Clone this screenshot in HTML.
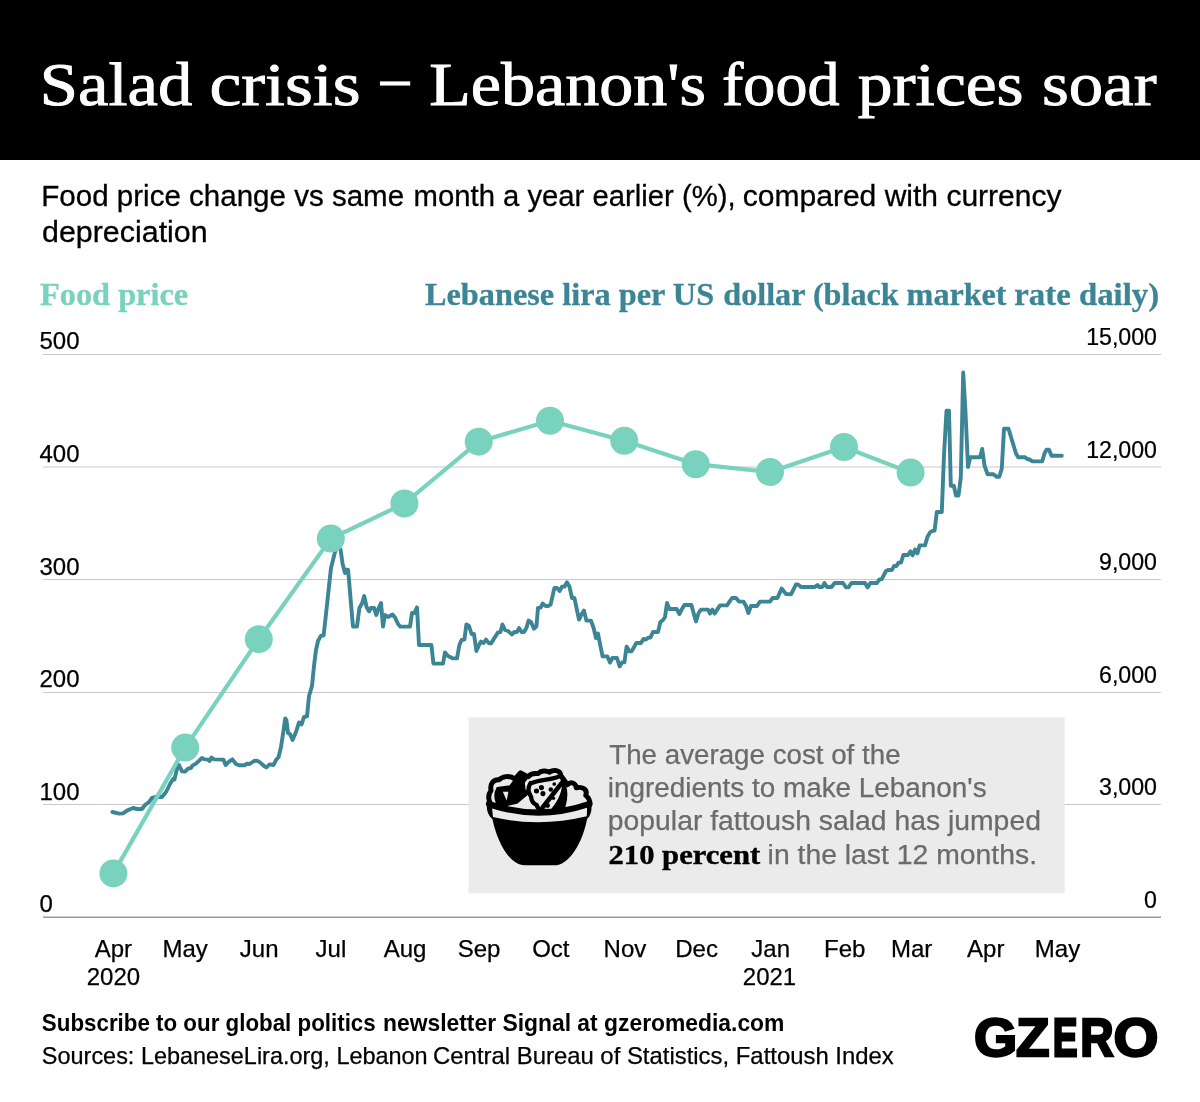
<!DOCTYPE html>
<html><head><meta charset="utf-8"><title>Salad crisis</title>
<style>html,body{margin:0;padding:0;background:#fff}body{width:1200px;height:1102px;position:relative;overflow:hidden}</style></head>
<body>
<svg width="1200" height="1102" viewBox="0 0 1200 1102" style="position:absolute;left:0;top:0">
<rect x="0" y="0" width="1200" height="160" fill="#000"/>
<line x1="43" x2="1161" y1="354.5" y2="354.5" stroke="#c9c9c9" stroke-width="1"/>
<line x1="43" x2="1161" y1="467.0" y2="467.0" stroke="#c9c9c9" stroke-width="1"/>
<line x1="43" x2="1161" y1="579.5" y2="579.5" stroke="#c9c9c9" stroke-width="1"/>
<line x1="43" x2="1161" y1="692.5" y2="692.5" stroke="#c9c9c9" stroke-width="1"/>
<line x1="43" x2="1161" y1="804.5" y2="804.5" stroke="#c9c9c9" stroke-width="1"/>
<line x1="43" x2="1161" y1="917.25" y2="917.25" stroke="#9a9a9a" stroke-width="1.5"/>
<rect x="468.5" y="717.5" width="596.2" height="175.8" fill="#ebebeb"/>
<path d="M112.4,812.0 L119.0,813.6 L123.0,813.4 L127.0,810.6 L133.0,808.0 L137.0,809.0 L142.0,809.0 L145.0,805.0 L149.0,802.0 L152.0,798.0 L156.0,797.0 L162.0,797.0 L166.0,792.0 L170.0,784.0 L173.0,779.0 L174.4,779.6 L177.0,769.0 L179.0,765.0 L182.0,771.4 L185.0,771.6 L188.0,768.6 L191.0,768.0 L192.4,765.6 L196.0,763.6 L202.0,758.0 L205.0,759.4 L208.0,759.6 L209.6,761.0 L211.4,757.6 L214.0,759.4 L223.4,759.6 L225.6,765.0 L229.0,761.6 L232.4,759.4 L236.0,764.0 L239.0,765.2 L245.0,765.2 L247.0,763.6 L249.6,764.0 L254.0,761.0 L257.0,760.6 L260.0,762.4 L264.0,766.0 L266.4,767.4 L269.6,764.4 L273.6,765.0 L276.0,760.0 L278.6,757.0 L281.0,747.0 L283.6,730.0 L285.2,718.4 L286.4,720.0 L288.0,733.0 L290.0,734.0 L292.6,740.0 L296.0,732.0 L299.0,722.4 L301.6,724.4 L304.0,717.0 L307.0,716.4 L309.0,696.0 L312.0,686.0 L314.0,666.0 L316.0,650.0 L318.0,641.0 L321.0,635.6 L323.6,635.6 L326.0,614.0 L328.6,590.0 L331.0,568.0 L335.0,552.0 L338.0,545.0 L340.6,550.0 L342.6,564.0 L345.0,573.0 L345.6,569.6 L348.0,569.6 L349.0,580.0 L351.0,604.0 L353.0,626.6 L357.0,626.6 L359.4,608.0 L362.0,603.6 L364.2,596.0 L366.6,607.0 L369.0,611.4 L371.0,608.0 L374.0,608.0 L376.4,615.0 L378.6,608.0 L381.0,603.0 L383.0,626.6 L385.0,615.0 L388.0,617.0 L392.6,614.6 L395.0,617.4 L398.0,624.0 L400.4,626.6 L410.0,626.6 L412.0,613.0 L414.4,613.0 L417.0,607.4 L419.0,645.0 L431.4,645.0 L433.4,663.6 L443.0,663.6 L445.0,652.4 L448.0,656.0 L453.0,658.4 L457.0,658.4 L459.4,645.0 L461.6,640.0 L464.4,639.6 L466.4,624.4 L469.0,626.0 L471.6,634.0 L474.0,634.0 L476.4,651.0 L479.0,645.0 L481.0,641.6 L483.6,643.0 L486.0,639.6 L489.0,643.4 L491.0,643.4 L498.0,632.4 L500.4,632.0 L502.4,624.4 L505.0,630.0 L508.0,631.0 L512.0,634.4 L514.4,632.0 L517.0,632.0 L519.0,628.0 L521.6,632.0 L524.0,632.0 L526.4,628.0 L528.6,620.6 L531.0,622.0 L534.0,628.6 L536.4,626.6 L538.0,608.0 L540.6,607.6 L542.6,603.6 L545.6,606.0 L548.0,606.0 L550.6,604.6 L554.4,588.0 L557.0,588.0 L559.6,591.0 L562.0,586.6 L564.4,586.6 L567.0,582.4 L569.4,586.4 L572.0,598.0 L574.4,598.0 L579.0,619.6 L581.4,614.6 L584.0,610.6 L586.4,620.6 L591.0,620.6 L593.6,628.0 L596.0,638.0 L598.0,633.6 L600.0,644.0 L602.6,656.4 L607.4,656.4 L610.0,662.6 L612.4,658.0 L617.0,658.0 L619.6,666.4 L622.0,662.4 L624.4,662.4 L626.6,646.6 L629.4,651.4 L631.6,651.4 L636.4,643.0 L641.0,643.0 L643.4,639.0 L645.6,639.6 L648.4,637.6 L650.4,637.6 L653.0,632.0 L658.0,632.0 L660.4,622.0 L663.0,620.0 L665.0,617.0 L667.0,603.0 L669.4,609.0 L676.6,609.0 L679.4,614.0 L682.0,609.0 L684.4,605.0 L691.4,605.0 L693.6,613.0 L696.0,621.4 L698.6,613.0 L701.0,609.6 L708.0,609.6 L710.0,613.6 L712.4,609.6 L714.6,613.6 L720.0,605.4 L727.0,605.4 L732.0,598.0 L736.0,598.0 L739.0,601.6 L743.6,601.6 L746.0,606.0 L748.4,613.0 L751.0,606.0 L757.0,606.0 L760.0,601.6 L770.0,601.6 L772.6,598.0 L777.4,598.0 L781.6,588.6 L786.0,594.0 L791.0,594.4 L796.0,584.4 L798.0,584.4 L801.0,587.0 L815.0,587.0 L817.4,585.0 L819.4,587.0 L822.4,587.0 L824.4,583.0 L827.0,587.0 L831.6,587.0 L834.6,583.0 L843.0,583.0 L846.0,587.4 L848.4,587.4 L851.4,583.0 L865.0,583.0 L867.6,587.4 L870.4,583.0 L877.0,583.0 L879.4,579.4 L881.6,579.4 L886.0,571.0 L888.0,570.0 L892.0,570.0 L894.0,566.0 L896.4,566.0 L898.6,562.6 L901.0,562.6 L903.4,555.0 L908.0,555.0 L910.4,551.4 L912.6,555.4 L915.0,549.4 L917.4,553.4 L919.6,545.4 L925.0,545.4 L927.4,537.0 L930.0,532.4 L932.4,531.0 L934.6,530.6 L936.8,512.0 L941.8,512.0 L944.0,455.0 L946.5,410.8 L949.0,410.8 L950.8,485.8 L953.8,485.8 L956.0,495.5 L958.5,495.5 L960.8,477.5 L963.2,372.5 L965.4,410.0 L968.0,467.0 L970.2,457.2 L980.0,457.2 L982.2,449.0 L984.5,465.5 L987.5,474.2 L993.5,474.2 L996.5,476.8 L999.2,476.8 L1001.8,468.5 L1004.0,428.8 L1008.5,428.8 L1016.0,453.5 L1018.2,457.2 L1025.0,457.2 L1027.2,459.0 L1029.5,459.5 L1032.5,461.4 L1042.2,461.4 L1044.5,453.5 L1046.5,449.8 L1049.0,449.8 L1051.5,455.8 L1061.8,455.8" fill="none" stroke="#3b8595" stroke-width="3.9" stroke-linejoin="round" stroke-linecap="round"/>
<path d="M113.4,873.4 L185.2,747.6 L258.8,639.2 L330.8,538.6 L404.4,503.5 L478.7,441.7 L550.0,420.8 L624.2,440.8 L695.8,464.2 L770.0,472.0 L844.0,447.0 L910.6,472.6" fill="none" stroke="#79d2bd" stroke-width="4.2" stroke-linejoin="round"/>
<circle cx="113.4" cy="873.4" r="14" fill="#79d2bd"/>
<circle cx="185.2" cy="747.6" r="14" fill="#79d2bd"/>
<circle cx="258.8" cy="639.2" r="14" fill="#79d2bd"/>
<circle cx="330.8" cy="538.6" r="14" fill="#79d2bd"/>
<circle cx="404.4" cy="503.5" r="14" fill="#79d2bd"/>
<circle cx="478.7" cy="441.7" r="14" fill="#79d2bd"/>
<circle cx="550" cy="420.75" r="14" fill="#79d2bd"/>
<circle cx="624.25" cy="440.75" r="14" fill="#79d2bd"/>
<circle cx="695.75" cy="464.25" r="14" fill="#79d2bd"/>
<circle cx="770" cy="472" r="14" fill="#79d2bd"/>
<circle cx="844" cy="447" r="14" fill="#79d2bd"/>
<circle cx="910.6" cy="472.6" r="14" fill="#79d2bd"/>
<g transform="translate(470,740) scale(0.133333)">
<!-- bowl silhouette -->
<path d="M128,462 C120,520 135,568 168,592 C205,770 300,940 410,940 L630,940 C745,940 845,770 878,592 C908,568 918,520 908,462 C800,520 650,548 520,548 C390,548 240,520 128,462 Z" fill="#000"/>
<!-- salad heap: light fill with black outline -->
<path d="M156,480 C134,443 138,405 158,379 C147,330 176,293 218,298 C245,270 300,265 336,293 L380,246 L436,276 C450,256 480,248 512,252 C530,229 570,226 598,242 C625,218 678,226 680,263 L730,335 C755,310 792,319 797,358 C843,347 884,372 868,415 C890,433 902,459 900,485 C800,530 650,552 520,552 C390,552 240,525 150,480 Z" fill="#ebebeb" stroke="#000" stroke-width="37" stroke-linejoin="round"/>
<!-- left leaf black interior + chip -->
<path d="M205,360 L300,347 L336,298 L380,246 L436,276 L404,319 L410,375 L440,398 L352,471 L262,492 L200,471 C185,433 185,396 205,360 Z" fill="#000" stroke="#000" stroke-width="14" stroke-linejoin="round"/>
<!-- light triangle in left leaf -->
<path d="M246,388 L288,388 L275,454 Z" fill="#ebebeb"/>
<!-- centre leaf inner line (top of pita) -->
<path d="M455,326 C520,292 590,306 668,274" fill="none" stroke="#000" stroke-width="32" stroke-linecap="round"/>
<!-- pita wavy left outline -->
<path d="M455,322 C430,360 440,400 458,425 C460,460 480,480 500,488 C505,510 520,525 540,530" fill="none" stroke="#000" stroke-width="32" stroke-linejoin="round" stroke-linecap="round"/>
<!-- wedge right of pita -->
<path d="M668,262 C740,326 745,420 708,525 L585,540 C650,480 690,400 690,330 Z" fill="#000"/>
<!-- diagonal stripe -->
<path d="M543,508 L690,320" fill="none" stroke="#000" stroke-width="34" stroke-linecap="round"/>
<!-- light sliver lower right of pita -->
<path d="M568,512 L668,385 C660,440 630,495 598,528 Z" fill="#ebebeb"/>
<path d="M540,532 L610,530" fill="none" stroke="#000" stroke-width="30" stroke-linecap="round"/>
<!-- dots -->
<g fill="#000"><circle cx="536" cy="357" r="19"/><circle cx="499" cy="383" r="19"/><circle cx="547" cy="402" r="19"/><circle cx="606" cy="372" r="17"/><circle cx="632" cy="330" r="14"/><circle cx="626" cy="437" r="13"/><circle cx="582" cy="492" r="18"/></g>
<!-- rim top stroke -->
<path d="M140,478 Q520,608 896,478" fill="none" stroke="#000" stroke-width="42" stroke-linecap="round"/>
<!-- light band on bowl -->
<path d="M166,513 Q520,626 878,508 L876,572 Q520,658 172,578 Z" fill="#ebebeb"/>
</g>

<text x="39.80" y="105" font-family="Liberation Serif, serif" font-size="62" fill="#fff" stroke="#fff" stroke-width="0.9" textLength="152.46" lengthAdjust="spacingAndGlyphs">Salad</text>
<text x="209.46" y="105" font-family="Liberation Serif, serif" font-size="62" fill="#fff" stroke="#fff" stroke-width="0.9" textLength="151.08" lengthAdjust="spacingAndGlyphs">crisis</text>
<text x="380.70" y="98" font-family="Liberation Serif, serif" font-size="62" fill="#fff" stroke="#fff" stroke-width="0.9" textLength="28.60" lengthAdjust="spacingAndGlyphs">–</text>
<text x="429.16" y="105" font-family="Liberation Serif, serif" font-size="62" fill="#fff" stroke="#fff" stroke-width="0.9" textLength="276.94" lengthAdjust="spacingAndGlyphs">Lebanon's</text>
<text x="722.04" y="105" font-family="Liberation Serif, serif" font-size="62" fill="#fff" stroke="#fff" stroke-width="0.9" textLength="117.40" lengthAdjust="spacingAndGlyphs">food</text>
<text x="857.74" y="105" font-family="Liberation Serif, serif" font-size="62" fill="#fff" stroke="#fff" stroke-width="0.9" textLength="165.92" lengthAdjust="spacingAndGlyphs">prices</text>
<text x="1041.90" y="105" font-family="Liberation Serif, serif" font-size="62" fill="#fff" stroke="#fff" stroke-width="0.9" textLength="114.66" lengthAdjust="spacingAndGlyphs">soar</text>
<text x="41.34" y="206" font-family="Liberation Sans, sans-serif" font-size="29.5" fill="#000" stroke="#000" stroke-width="0.3" textLength="362.80" lengthAdjust="spacingAndGlyphs">Food price change vs same</text>
<text x="413.60" y="206" font-family="Liberation Sans, sans-serif" font-size="29.5" fill="#000" stroke="#000" stroke-width="0.3" textLength="321.94" lengthAdjust="spacingAndGlyphs">month a year earlier (%),</text>
<text x="742.74" y="206" font-family="Liberation Sans, sans-serif" font-size="29.5" fill="#000" stroke="#000" stroke-width="0.3" textLength="318.82" lengthAdjust="spacingAndGlyphs">compared with currency</text>
<text x="42.04" y="241.7" font-family="Liberation Sans, sans-serif" font-size="29.5" fill="#000" stroke="#000" stroke-width="0.3" textLength="165.62" lengthAdjust="spacingAndGlyphs">depreciation</text>
<text x="40.00" y="305.3" font-family="Liberation Serif, serif" font-size="31" fill="#79d2bd" font-weight="bold" stroke="#79d2bd" stroke-width="0.3" textLength="148.14" lengthAdjust="spacingAndGlyphs">Food price</text>
<text x="425.00" y="305.3" font-family="Liberation Serif, serif" font-size="31" fill="#3b8595" font-weight="bold" stroke="#3b8595" stroke-width="0.3" textLength="289.14" lengthAdjust="spacingAndGlyphs">Lebanese lira per US</text>
<text x="723.30" y="305.3" font-family="Liberation Serif, serif" font-size="31" fill="#3b8595" font-weight="bold" stroke="#3b8595" stroke-width="0.3" textLength="283.26" lengthAdjust="spacingAndGlyphs">dollar (black market</text>
<text x="1014.30" y="305.3" font-family="Liberation Serif, serif" font-size="31" fill="#3b8595" font-weight="bold" stroke="#3b8595" stroke-width="0.3" textLength="144.84" lengthAdjust="spacingAndGlyphs">rate daily)</text>
<text x="609.24" y="763.5" font-family="Liberation Sans, sans-serif" font-size="27" fill="#6b6b6b" stroke="#6b6b6b" stroke-width="0.25" textLength="291.34" lengthAdjust="spacingAndGlyphs">The average cost of the</text>
<text x="607.84" y="797" font-family="Liberation Sans, sans-serif" font-size="27" fill="#6b6b6b" stroke="#6b6b6b" stroke-width="0.25" textLength="378.80" lengthAdjust="spacingAndGlyphs">ingredients to make Lebanon's</text>
<text x="607.84" y="830.3" font-family="Liberation Sans, sans-serif" font-size="27" fill="#6b6b6b" stroke="#6b6b6b" stroke-width="0.25" textLength="433.06" lengthAdjust="spacingAndGlyphs">popular fattoush salad has jumped</text>
<text x="608.54" y="863.6" font-family="Liberation Serif, serif" font-size="27" fill="#000" font-weight="bold" stroke="#000" stroke-width="0.4" textLength="151.64" lengthAdjust="spacingAndGlyphs">210 percent</text>
<text x="767.60" y="863.6" font-family="Liberation Sans, sans-serif" font-size="27" fill="#6b6b6b" stroke="#6b6b6b" stroke-width="0.25" textLength="269.44" lengthAdjust="spacingAndGlyphs">in the last 12 months.</text>
<text x="41.86" y="1031" font-family="Liberation Sans, sans-serif" font-size="24" fill="#000" font-weight="bold" textLength="333.84" lengthAdjust="spacingAndGlyphs">Subscribe to our global politics</text>
<text x="383.04" y="1031" font-family="Liberation Sans, sans-serif" font-size="24" fill="#000" font-weight="bold" textLength="401.36" lengthAdjust="spacingAndGlyphs">newsletter Signal at gzeromedia.com</text>
<text x="41.86" y="1063.5" font-family="Liberation Sans, sans-serif" font-size="24" fill="#000" stroke="#000" stroke-width="0.25" textLength="385.79" lengthAdjust="spacingAndGlyphs">Sources: LebaneseLira.org, Lebanon</text>
<text x="433.10" y="1063.5" font-family="Liberation Sans, sans-serif" font-size="24" fill="#000" stroke="#000" stroke-width="0.25" textLength="460.66" lengthAdjust="spacingAndGlyphs">Central Bureau of Statistics, Fattoush Index</text>
<text x="973.92" y="1056.4" font-family="Liberation Sans, sans-serif" font-size="54" fill="#000" font-weight="bold" stroke="#000" stroke-width="2.4" textLength="43.24" lengthAdjust="spacingAndGlyphs">G</text>
<text x="1016.06" y="1056.4" font-family="Liberation Sans, sans-serif" font-size="54" fill="#000" font-weight="bold" stroke="#000" stroke-width="2.4" textLength="33.50" lengthAdjust="spacingAndGlyphs">Z</text>
<text x="1053.10" y="1056.4" font-family="Liberation Sans, sans-serif" font-size="54" fill="#000" font-weight="bold" stroke="#000" stroke-width="3.2" textLength="24.40" lengthAdjust="spacingAndGlyphs">E</text>
<text x="1080.34" y="1056.4" font-family="Liberation Sans, sans-serif" font-size="54" fill="#000" font-weight="bold" stroke="#000" stroke-width="2.6" textLength="33.40" lengthAdjust="spacingAndGlyphs">R</text>
<text x="1113.42" y="1056.4" font-family="Liberation Sans, sans-serif" font-size="54" fill="#000" font-weight="bold" stroke="#000" stroke-width="2.4" textLength="44.98" lengthAdjust="spacingAndGlyphs">O</text>
<text x="39.5" y="349.3" font-family="Liberation Sans, sans-serif" font-size="24" fill="#000" stroke="#000" stroke-width="0.25">500</text>
<text x="39.5" y="461.9" font-family="Liberation Sans, sans-serif" font-size="24" fill="#000" stroke="#000" stroke-width="0.25">400</text>
<text x="39.5" y="574.5" font-family="Liberation Sans, sans-serif" font-size="24" fill="#000" stroke="#000" stroke-width="0.25">300</text>
<text x="39.5" y="687.1" font-family="Liberation Sans, sans-serif" font-size="24" fill="#000" stroke="#000" stroke-width="0.25">200</text>
<text x="39.5" y="799.7" font-family="Liberation Sans, sans-serif" font-size="24" fill="#000" stroke="#000" stroke-width="0.25">100</text>
<text x="39.5" y="912.3" font-family="Liberation Sans, sans-serif" font-size="24" fill="#000" stroke="#000" stroke-width="0.25">0</text>
<text transform="translate(1157,345.0) scale(0.965,1)" font-family="Liberation Sans, sans-serif" font-size="24" fill="#000" text-anchor="end" stroke="#000" stroke-width="0.25">15,000</text>
<text transform="translate(1157,457.6) scale(0.965,1)" font-family="Liberation Sans, sans-serif" font-size="24" fill="#000" text-anchor="end" stroke="#000" stroke-width="0.25">12,000</text>
<text transform="translate(1157,570.2) scale(0.965,1)" font-family="Liberation Sans, sans-serif" font-size="24" fill="#000" text-anchor="end" stroke="#000" stroke-width="0.25">9,000</text>
<text transform="translate(1157,682.8) scale(0.965,1)" font-family="Liberation Sans, sans-serif" font-size="24" fill="#000" text-anchor="end" stroke="#000" stroke-width="0.25">6,000</text>
<text transform="translate(1157,795.4) scale(0.965,1)" font-family="Liberation Sans, sans-serif" font-size="24" fill="#000" text-anchor="end" stroke="#000" stroke-width="0.25">3,000</text>
<text transform="translate(1157,908.0) scale(0.965,1)" font-family="Liberation Sans, sans-serif" font-size="24" fill="#000" text-anchor="end" stroke="#000" stroke-width="0.25">0</text>
<text x="113.4" y="956.5" font-family="Liberation Sans, sans-serif" font-size="24" fill="#000" text-anchor="middle" stroke="#000" stroke-width="0.25">Apr</text>
<text x="185.1" y="956.5" font-family="Liberation Sans, sans-serif" font-size="24" fill="#000" text-anchor="middle" stroke="#000" stroke-width="0.25">May</text>
<text x="259.2" y="956.5" font-family="Liberation Sans, sans-serif" font-size="24" fill="#000" text-anchor="middle" stroke="#000" stroke-width="0.25">Jun</text>
<text x="330.9" y="956.5" font-family="Liberation Sans, sans-serif" font-size="24" fill="#000" text-anchor="middle" stroke="#000" stroke-width="0.25">Jul</text>
<text x="405" y="956.5" font-family="Liberation Sans, sans-serif" font-size="24" fill="#000" text-anchor="middle" stroke="#000" stroke-width="0.25">Aug</text>
<text x="479.1" y="956.5" font-family="Liberation Sans, sans-serif" font-size="24" fill="#000" text-anchor="middle" stroke="#000" stroke-width="0.25">Sep</text>
<text x="550.8" y="956.5" font-family="Liberation Sans, sans-serif" font-size="24" fill="#000" text-anchor="middle" stroke="#000" stroke-width="0.25">Oct</text>
<text x="624.9" y="956.5" font-family="Liberation Sans, sans-serif" font-size="24" fill="#000" text-anchor="middle" stroke="#000" stroke-width="0.25">Nov</text>
<text x="696.6" y="956.5" font-family="Liberation Sans, sans-serif" font-size="24" fill="#000" text-anchor="middle" stroke="#000" stroke-width="0.25">Dec</text>
<text x="770.7" y="956.5" font-family="Liberation Sans, sans-serif" font-size="24" fill="#000" text-anchor="middle" stroke="#000" stroke-width="0.25">Jan</text>
<text x="844.8" y="956.5" font-family="Liberation Sans, sans-serif" font-size="24" fill="#000" text-anchor="middle" stroke="#000" stroke-width="0.25">Feb</text>
<text x="911.7" y="956.5" font-family="Liberation Sans, sans-serif" font-size="24" fill="#000" text-anchor="middle" stroke="#000" stroke-width="0.25">Mar</text>
<text x="985.8" y="956.5" font-family="Liberation Sans, sans-serif" font-size="24" fill="#000" text-anchor="middle" stroke="#000" stroke-width="0.25">Apr</text>
<text x="1057.5" y="956.5" font-family="Liberation Sans, sans-serif" font-size="24" fill="#000" text-anchor="middle" stroke="#000" stroke-width="0.25">May</text>
<text x="113.4" y="985" font-family="Liberation Sans, sans-serif" font-size="24" fill="#000" text-anchor="middle" stroke="#000" stroke-width="0.25">2020</text>
<text x="769.5" y="985" font-family="Liberation Sans, sans-serif" font-size="24" fill="#000" text-anchor="middle" stroke="#000" stroke-width="0.25">2021</text>
</svg>
</body></html>
